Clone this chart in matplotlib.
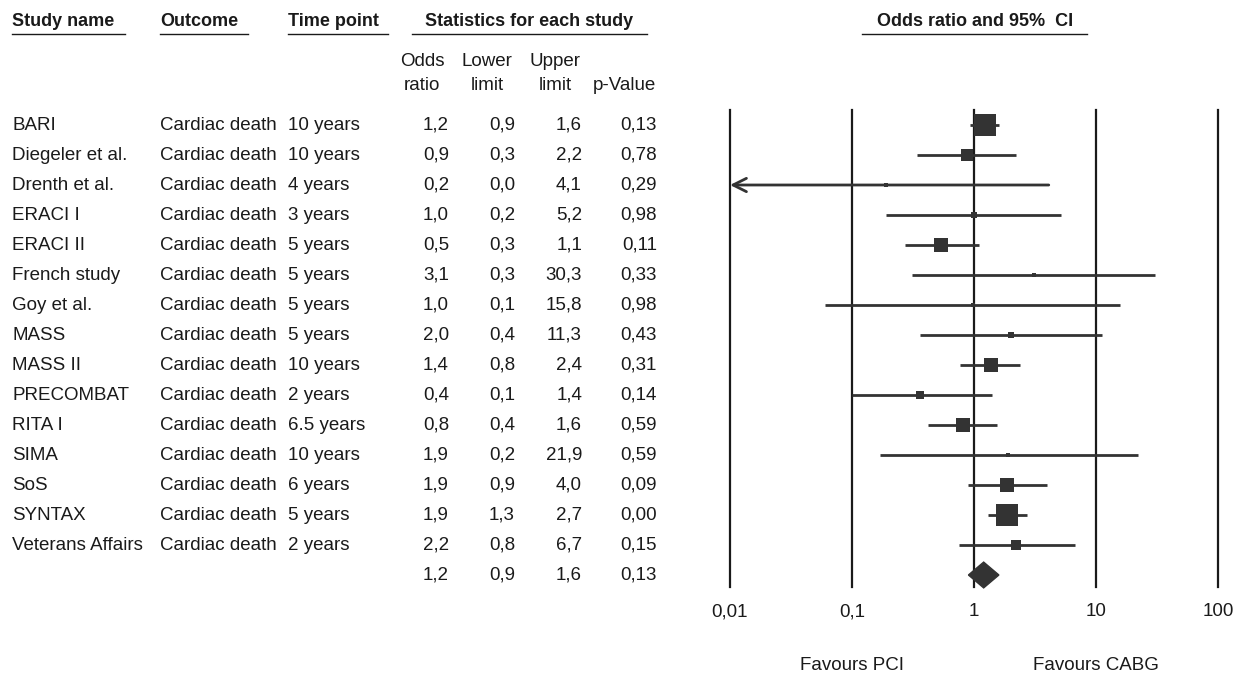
import matplotlib.pyplot as plt
from matplotlib.patches import Polygon
import numpy as np

# ==============================
# DATA
# ==============================
studies = ["BARI", "Diegeler et al.", "Drenth et al.", "ERACI I", "ERACI II",
           "French study", "Goy et al.", "MASS", "MASS II", "PRECOMBAT",
           "RITA I", "SIMA", "SoS", "SYNTAX", "Veterans Affairs"]
outcome = ["Cardiac death"] * len(studies)
time_point = ["10 years", "10 years", "4 years", "3 years", "5 years",
              "5 years", "5 years", "5 years", "10 years", "2 years",
              "6.5 years", "10 years", "6 years", "5 years", "2 years"]
# values (shown rounded to one decimal in the table)
odds_ratio = [1.22, 0.88, 0.19, 1.0, 0.54, 3.1, 0.98, 2.0, 1.37, 0.36, 0.81, 1.9, 1.86, 1.86, 2.2]
lower = [0.93, 0.34, 0.009, 0.19, 0.27, 0.31, 0.06, 0.36, 0.77, 0.1, 0.42, 0.17, 0.9, 1.3, 0.76]
upper = [1.6, 2.2, 4.1, 5.2, 1.1, 30.3, 15.8, 11.3, 2.4, 1.4, 1.55, 21.9, 4.0, 2.7, 6.7]
p_value = [0.13, 0.78, 0.29, 0.98, 0.11, 0.33, 0.98, 0.43, 0.31, 0.14, 0.59, 0.59, 0.09, 0.00, 0.15]
# relative weights (%)
weight = [23.6, 5.4, 0.7, 1.6, 8.7, 1.1, 0.7, 1.6, 10.0, 2.9, 10.0, 0.7, 8.7, 19.7, 4.5]

pooled = [1.2, 0.9, 1.6, 0.13]   # OR, lower, upper, p

ticks = [0.01, 0.1, 1, 10, 100]
tick_labels = ["0,01", "0,1", "1", "10", "100"]

# ==============================
# STYLE
# ==============================
plt.rcParams["font.family"] = ["Liberation Sans", "DejaVu Sans"]
TXT = "#1a1a1a"
MARK = "#333333"
FS = 13.5
W, H = 1247, 676

fig = plt.figure(figsize=(W / 100, H / 100), dpi=100)

# text layer in pixel coordinates
ax_t = fig.add_axes([0, 0, 1, 1])
ax_t.set_xlim(0, W)
ax_t.set_ylim(H, 0)
ax_t.axis("off")

ROW0, STEP = 125, 30


def fmt(v, nd=1):
    return f"{v:.{nd}f}".replace(".", ",")


# column headers
headers = [("Study name", 12, 125), ("Outcome", 160, 248), ("Time point", 288, 388)]
for label, x0, x1 in headers:
    ax_t.text(x0, 21, label, fontsize=13, fontweight="bold", color=TXT,
              ha="left", va="center")
    ax_t.plot([x0, x1], [34, 34], color=TXT, lw=1.0)

ax_t.text(529, 21, "Statistics for each study", fontsize=13, fontweight="bold",
          color=TXT, ha="center", va="center")
ax_t.plot([412, 647], [34, 34], color=TXT, lw=1.0)

ax_t.text(975, 21, "Odds ratio and 95%  CI", fontsize=13, fontweight="bold",
          color=TXT, ha="center", va="center")
ax_t.plot([862, 1087], [34, 34], color=TXT, lw=1.0)

sub = [("Odds", "ratio", 422), ("Lower", "limit", 487), ("Upper", "limit", 555)]
for l1, l2, xc in sub:
    ax_t.text(xc, 61, l1, fontsize=FS, color=TXT, ha="center", va="center")
    ax_t.text(xc, 85, l2, fontsize=FS, color=TXT, ha="center", va="center")
ax_t.text(624, 85, "p-Value", fontsize=FS, color=TXT, ha="center", va="center")

# table rows
col_x = {"or": 449, "lo": 515, "hi": 582, "p": 657}
for i in range(len(studies)):
    y = ROW0 + STEP * i
    ax_t.text(12, y, studies[i], fontsize=FS, color=TXT, va="center")
    ax_t.text(160, y, outcome[i], fontsize=FS, color=TXT, va="center")
    ax_t.text(288, y, time_point[i], fontsize=FS, color=TXT, va="center")
    ax_t.text(col_x["or"], y, fmt(odds_ratio[i]), fontsize=FS, color=TXT, ha="right", va="center")
    ax_t.text(col_x["lo"], y, fmt(lower[i]), fontsize=FS, color=TXT, ha="right", va="center")
    ax_t.text(col_x["hi"], y, fmt(upper[i]), fontsize=FS, color=TXT, ha="right", va="center")
    ax_t.text(col_x["p"], y, fmt(p_value[i], 2), fontsize=FS, color=TXT, ha="right", va="center")

ys = ROW0 + STEP * len(studies)
for key, val, nd in zip(["or", "lo", "hi", "p"], pooled, [1, 1, 1, 2]):
    ax_t.text(col_x[key], ys, fmt(val, nd), fontsize=FS, color=TXT, ha="right", va="center")

# ==============================
# FOREST PLOT
# ==============================
top_px, bot_px = 110, 587
left_px, right_px = 730, 1218
ax = fig.add_axes([left_px / W, 1 - bot_px / H, (right_px - left_px) / W, (bot_px - top_px) / H])
ax.set_xscale("log")
ax.set_xlim(ticks[0], ticks[-1])
ax.set_ylim((bot_px - ROW0) / STEP, (top_px - ROW0) / STEP)
ax.axis("off")

for t in ticks:
    ax.axvline(t, color=TXT, lw=1.6, zorder=1, clip_on=False)

wmax = max(weight)
for i in range(len(studies)):
    lo, hi = lower[i], upper[i]
    if lo < ticks[0]:
        ax.annotate("", xy=(ticks[0], i), xytext=(hi, i),
                    arrowprops=dict(arrowstyle="->", color=MARK, lw=2.0,
                                    shrinkA=0, shrinkB=0, mutation_scale=24),
                    zorder=3)
    else:
        ax.plot([lo, hi], [i, i], color=MARK, lw=2.0, solid_capstyle="butt", zorder=3)
    side = 23 * np.sqrt(weight[i] / wmax) * 0.72
    ax.plot(odds_ratio[i], i, marker="s", ms=side, mew=0, color=MARK, zorder=4)

# pooled diamond
n = len(studies)
h = 0.43
ax.add_patch(Polygon([(pooled[1], n), (pooled[0], n - h), (pooled[2], n), (pooled[0], n + h)],
                     closed=True, color=MARK, zorder=4, clip_on=False))

# tick labels and favours
for t, lab in zip(ticks, tick_labels):
    ax.text(t, (612 - ROW0) / STEP, lab, fontsize=FS, color=TXT, ha="center",
            va="center", clip_on=False)
ax.text(0.1, (665 - ROW0) / STEP, "Favours PCI", fontsize=FS, color=TXT,
        ha="center", va="center", clip_on=False)
ax.text(10, (665 - ROW0) / STEP, "Favours CABG", fontsize=FS, color=TXT,
        ha="center", va="center", clip_on=False)

plt.savefig("out.png", dpi=100)
plt.close()
